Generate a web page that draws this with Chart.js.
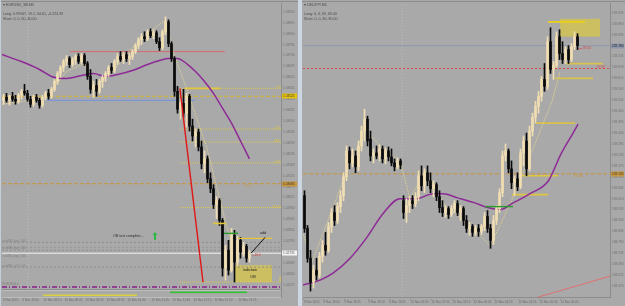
<!DOCTYPE html>
<html>
<head>
<meta charset="utf-8">
<script src="https://cdn.jsdelivr.net/npm/chart.js@4.4.1/dist/chart.umd.min.js"></script>
<style>
html,body{margin:0;padding:0;width:625px;height:306px;overflow:hidden;background:#a9a9a9;}
.pane{position:absolute;top:0;}
#paneL{left:0;width:298px;height:306px;}
#paneR{left:302px;width:323px;height:306px;}
#sep{position:absolute;left:298px;top:0;width:4px;height:306px;background:#cbd6e2;}
#edge{position:absolute;left:0;top:0;width:1px;height:306px;background:#c3cfdc;}
canvas{display:block;}
</style>
</head>
<body>
<div id="paneL" class="pane"><canvas id="cL" width="298" height="306"></canvas></div>
<div id="sep"></div>
<div id="paneR" class="pane"><canvas id="cR" width="323" height="306"></canvas></div>
<div id="edge"></div>
<script>
// ---------------- LEFT: EURUSD_SB, M5 ----------------
const leftOpen = [1.03505,1.03520,1.03505,1.03525,1.03510,1.03500,1.03530,1.03550,1.03540,1.03510,
 1.03485,1.03520,1.03505,1.03480,1.03520,1.03540,1.03525,1.03560,1.03600,1.03640,
 1.03670,1.03700,1.03715,1.03685,1.03710,1.03725,1.03700,1.03730,1.03690,1.03625,
 1.03560,1.03580,1.03550,1.03600,1.03620,1.03640,1.03670,1.03655,1.03700,1.03725,
 1.03710,1.03735,1.03715,1.03725,1.03750,1.03780,1.03810,1.03825,1.03815,1.03850,
 1.03830,1.03845,1.03800,1.03770,1.03850,1.03900,1.03790,1.03715,1.03550,1.03460,
 1.03490,1.03440,1.03525,1.03375,1.03325,1.03345,1.03270,1.03185,1.03210,1.03110,
 1.03060,1.02980,1.03000,1.02900,1.02660,1.02750,1.02650,1.02825,1.02690,1.02800,
 1.02740,1.02770,1.02710];
const leftHigh = [1.03535,1.03540,1.03530,1.03545,1.03530,1.03540,1.03560,1.03585,1.03555,1.03525,
 1.03530,1.03535,1.03515,1.03530,1.03550,1.03560,1.03570,1.03610,1.03650,1.03680,
 1.03710,1.03730,1.03725,1.03720,1.03735,1.03740,1.03740,1.03740,1.03700,1.03660,
 1.03600,1.03610,1.03610,1.03630,1.03650,1.03680,1.03690,1.03710,1.03740,1.03750,
 1.03745,1.03750,1.03740,1.03760,1.03790,1.03820,1.03840,1.03850,1.03860,1.03865,
 1.03860,1.03855,1.03820,1.03860,1.03925,1.03910,1.03800,1.03725,1.03575,1.03510,
 1.03560,1.03540,1.03535,1.03410,1.03360,1.03360,1.03300,1.03250,1.03225,1.03140,
 1.03080,1.03020,1.03010,1.02910,1.02775,1.02800,1.02860,1.02850,1.02820,1.02815,
 1.02790,1.02780,1.02750];
const leftLow = [1.03485,1.03495,1.03480,1.03500,1.03485,1.03490,1.03510,1.03530,1.03500,1.03470,
 1.03475,1.03495,1.03465,1.03470,1.03505,1.03510,1.03515,1.03550,1.03585,1.03620,
 1.03650,1.03680,1.03670,1.03675,1.03685,1.03690,1.03690,1.03680,1.03610,1.03540,
 1.03520,1.03525,1.03540,1.03570,1.03600,1.03625,1.03640,1.03645,1.03685,1.03700,
 1.03690,1.03700,1.03685,1.03710,1.03740,1.03765,1.03785,1.03800,1.03805,1.03820,
 1.03815,1.03790,1.03755,1.03760,1.03835,1.03775,1.03700,1.03525,1.03440,1.03410,
 1.03420,1.03370,1.03350,1.03300,1.03270,1.03250,1.03160,1.03140,1.03090,1.03040,
 1.02960,1.02910,1.02875,1.02620,1.02600,1.02625,1.02640,1.02590,1.02675,1.02710,
 1.02720,1.02690,1.02690];
const leftClose = [1.03520,1.03505,1.03525,1.03510,1.03500,1.03530,1.03550,1.03540,1.03510,1.03485,
 1.03520,1.03505,1.03480,1.03520,1.03540,1.03525,1.03560,1.03600,1.03640,1.03670,
 1.03700,1.03715,1.03685,1.03710,1.03725,1.03700,1.03730,1.03690,1.03625,1.03560,
 1.03580,1.03550,1.03600,1.03620,1.03640,1.03670,1.03655,1.03700,1.03725,1.03710,
 1.03735,1.03715,1.03725,1.03750,1.03780,1.03810,1.03825,1.03815,1.03850,1.03830,
 1.03845,1.03800,1.03770,1.03850,1.03900,1.03790,1.03715,1.03550,1.03460,1.03490,
 1.03440,1.03525,1.03375,1.03325,1.03345,1.03270,1.03185,1.03210,1.03110,1.03060,
 1.02980,1.03000,1.02900,1.02660,1.02750,1.02650,1.02825,1.02690,1.02800,1.02740,
 1.02770,1.02710,1.02735];
const leftMaIdx = [-0.5,6,12,16,21,26,30,34,38,43,48,52,55,58,61,64,67,70,73,76,79,82];
const leftMaVal = [1.03735,1.03700,1.03660,1.03625,1.03615,1.03630,1.03640,1.03625,1.03635,1.03655,1.03685,
 1.03705,1.03715,1.03715,1.03690,1.03650,1.03600,1.03540,1.03465,1.03390,1.03300,1.03210];
const leftZzIdx = [-0.5,14,21,27,30.5,35.5,45.5,54,56.5,61,65.5,67.8,74.5,77.3];
const leftZzVal = [1.03485,1.03515,1.03650,1.03690,1.03575,1.03635,1.03815,1.03910,1.03750,1.03565,1.03365,1.03265,1.02865,1.02750];
const leftTicks = [1.03950,1.03895,1.03840,1.03785,1.03730,1.03675,1.03620,1.03565,1.03510,1.03455,1.03400,1.03345,1.03290,
 1.03235,1.03180,1.03125,1.03070,1.03015,1.02960,1.02905,1.02850,1.02795,1.02740,1.02685,1.02630,1.02575];
const leftTimeLabels = ["9 Nov 2022","9 Nov 13:35","10 Nov 08:10","10 Nov 08:45","10 Nov 09:20","10 Nov 09:55",
 "10 Nov 10:30","10 Nov 11:05","10 Nov 11:40","10 Nov 12:15","10 Nov 12:50","10 Nov 13:25"];
const leftTimeIdx = [-0.5,6,13,20,27,34,41,49,56,63,70,78];
const leftFullLevels = [1.03525, 1.03085, 1.02790, 1.02765, 1.02750, 1.02665, 1.02735, 1.02565];
const leftFiboLevels = [1.03565, 1.03360, 1.03295, 1.03190, 1.02965];
const leftFiboLabels = ["0.0", "23.6", "38.2", "61.8", "161.8"];
const leftHeader = ["\u25BE EURUSD_SB,M5", "Long: 0.99947, 19.1, 64.61, -0.224.39", "Short: 0, 0, 60, 40.00"];

// ---------------- RIGHT: USDJPY, M5 ----------------
const rightOpen = [139.025,138.860,138.710,138.590,138.650,138.625,138.720,138.775,138.750,138.870,
 138.940,138.900,138.970,139.025,139.120,139.250,139.190,139.225,139.170,139.275,
 139.350,139.410,139.310,139.225,139.240,139.225,139.260,139.210,139.250,139.220,
 139.190,139.170,139.200,139.000,138.940,138.975,139.000,138.985,139.020,139.125,
 139.075,139.140,139.100,139.060,139.080,139.020,138.965,138.940,138.960,138.930,
 138.960,138.985,138.940,138.960,138.900,138.860,138.870,138.840,138.860,138.845,
 138.870,138.920,138.860,138.800,138.900,138.960,139.040,139.225,139.250,139.160,
 139.090,139.110,139.070,139.240,139.300,139.160,139.350,139.420,139.475,139.525,
 139.610,139.575,139.800,139.660,139.680,139.825,139.740,139.710,139.760,139.710,
 139.775,139.825];
const rightHigh = [139.050,138.875,138.750,138.675,138.710,138.740,138.800,138.840,138.890,138.960,
 138.975,138.990,139.050,139.140,139.275,139.270,139.260,139.250,139.300,139.375,
 139.460,139.425,139.350,139.260,139.275,139.280,139.275,139.265,139.270,139.260,
 139.210,139.215,139.210,139.025,139.010,139.020,139.025,139.040,139.150,139.175,
 139.160,139.175,139.140,139.100,139.090,139.050,139.000,138.975,138.970,138.975,
 139.000,139.000,138.975,138.970,138.925,138.890,138.880,138.875,138.880,138.880,
 138.940,138.950,138.880,138.925,138.975,139.060,139.250,139.285,139.260,139.200,
 139.125,139.140,139.260,139.325,139.340,139.375,139.440,139.500,139.550,139.625,
 139.690,139.825,139.870,139.700,139.850,139.860,139.800,139.775,139.780,139.790,
 139.850,139.840];
const rightLow = [138.840,138.690,138.545,138.560,138.600,138.610,138.690,138.725,138.740,138.840,
 138.875,138.885,138.940,139.000,139.100,139.160,139.170,139.140,139.150,139.250,
 139.300,139.275,139.200,139.190,139.210,139.200,139.190,139.185,139.200,139.175,
 139.150,139.160,139.160,138.910,138.890,138.940,138.960,138.970,139.000,139.050,
 139.040,139.075,139.040,139.020,139.000,138.940,138.920,138.915,138.910,138.920,
 138.940,138.925,138.900,138.875,138.840,138.825,138.820,138.825,138.820,138.830,
 138.850,138.840,138.760,138.780,138.880,138.940,139.020,139.200,139.140,139.060,
 139.025,139.050,139.060,139.175,139.125,139.150,139.325,139.390,139.440,139.500,
 139.550,139.560,139.640,139.610,139.670,139.710,139.690,139.690,139.690,139.700,
 139.760,139.760];
const rightClose = [138.860,138.710,138.590,138.650,138.625,138.720,138.775,138.750,138.870,138.940,
 138.900,138.970,139.025,139.120,139.250,139.190,139.225,139.170,139.275,139.350,
 139.410,139.300,139.225,139.240,139.225,139.260,139.210,139.250,139.220,139.190,
 139.170,139.200,139.180,138.940,138.975,139.000,138.985,139.020,139.125,139.075,
 139.140,139.100,139.060,139.080,139.020,138.965,138.940,138.960,138.930,138.960,
 138.985,138.940,138.960,138.900,138.860,138.870,138.840,138.860,138.845,138.870,
 138.920,138.860,138.800,138.900,138.960,139.040,139.225,139.250,139.160,139.090,
 139.110,139.070,139.240,139.300,139.160,139.350,139.420,139.475,139.525,139.610,
 139.575,139.800,139.660,139.680,139.825,139.740,139.710,139.760,139.710,139.775,
 139.825,139.780];
const rightMaIdx = [-0.5,5.2,9.5,15.2,20.8,26.2,31.8,37.5,42.8,46.2,50.8,56.5,61,65.2,69.7,75.2,81.3,85.5,89.5,91.2];
const rightMaVal = [138.575,138.600,138.635,138.710,138.815,138.935,139.010,139.010,139.035,139.035,
 139.015,138.990,138.965,138.955,138.990,139.035,139.100,139.235,139.340,139.385];
const rightZzIdx = [-0.5,2.5,13.5,20.2,26.8,31.8,35.2,40.2,46.8,55.2,61.8,65.2,70.5,77.2,82.5,85.2];
const rightZzVal = [138.835,138.690,139.125,139.360,139.250,139.200,139.010,139.150,138.975,138.875,
 138.775,138.875,139.050,139.300,139.500,139.650];
const rightTicks = [139.945,139.890,139.835,139.780,139.725,139.670,139.615,139.560,139.505,139.450,139.395,
 139.340,139.285,139.230,139.175,139.120,139.065,139.010,138.955,138.900,138.845,138.790,138.735,138.680,138.625,138.570];
const rightTimeLabels = ["9 Nov 2022","9 Nov 18:00","9 Nov 18:35","9 Nov 19:10","9 Nov 19:45","10 Nov 02:00",
 "10 Nov 02:35","10 Nov 03:10","10 Nov 03:45","10 Nov 04:20","10 Nov 04:55","10 Nov 05:30","10 Nov 06:05"];
const rightTimeIdx = [-0.5,6,13,21,28,35,42,49,56,63,71,78,85];
const rightFullLevels = [139.780, 139.665, 139.135];
const rightHeader = ["\u25BE USDJPY,M5", "Long: 0, 0, 69, 69.00", "Short: 0, 0, 80, 80.00"];

// ---------------- helpers ----------------
const FONT = '"Liberation Sans", Arial, sans-serif';
const BULL = '#f0ddb2', BEAR = '#0a0a0a';

function candleSets(o, h, l, c) {
  const col = o.map((v, i) => c[i] >= v ? BULL : BEAR);
  return [
    {type:'bar', data:o.map((v,i)=>({x:i, y:[v, c[i]]})), backgroundColor:col, barThickness:2, grouped:false, minBarLength:1, order:1},
    {type:'bar', data:o.map((v,i)=>({x:i, y:[l[i], h[i]]})), backgroundColor:col, barThickness:1, grouped:false, order:2}
  ];
}
function seg(i0, i1, p0, p1, color, width, dash, order) {
  return {type:'line', data:[{x:i0,y:p0},{x:i1,y:p1}], borderColor:color, borderWidth:width,
    borderDash:dash||[], pointRadius:0, fill:false, tension:0, order:(order===undefined?6:order)};
}
function curve(idx, val, color, width, dash, smooth, order) {
  return {type:'line', data:idx.map((v,k)=>({x:v, y:val[k]})), borderColor:color, borderWidth:width,
    borderDash:dash, pointRadius:0, fill:false, cubicInterpolationMode: smooth ? 'monotone' : 'default',
    tension: smooth ? 0.4 : 0, order:order};
}
function txt(ctx, s, x, y, color, size, align) {
  ctx.font = size + 'px ' + FONT; ctx.fillStyle = color; ctx.textAlign = align || 'left';
  ctx.textBaseline = 'middle'; ctx.fillText(s, x, y);
}
function makeExtras(cfg) {
  return {
    id: 'extras' + cfg.name,
    beforeDatasetsDraw(chart) {
      const ctx = chart.ctx, a = chart.chartArea, X = chart.scales.x, Y = chart.scales.y;
      ctx.save(); ctx.beginPath(); ctx.rect(a.left, a.top, a.right - a.left, a.bottom - a.top); ctx.clip();
      cfg.boxes.forEach(b => {
        const x0 = X.getPixelForValue(b.i0), x1 = X.getPixelForValue(b.i1);
        const y0 = Y.getPixelForValue(b.p0), y1 = Y.getPixelForValue(b.p1);
        ctx.fillStyle = b.color; ctx.fillRect(x0, Math.min(y0, y1), x1 - x0, Math.abs(y1 - y0));
      });
      ctx.restore();
    },
    afterDatasetsDraw(chart) {
      const ctx = chart.ctx, X = chart.scales.x, Y = chart.scales.y;
      ctx.save();
      cfg.notes.forEach(n => txt(ctx, n.t, X.getPixelForValue(n.i), Y.getPixelForValue(n.p), n.c, n.s, n.a));
      (cfg.arrows || []).forEach(ar => {
        const x = X.getPixelForValue(ar.i), y = Y.getPixelForValue(ar.p);
        ctx.fillStyle = '#2fb84a';
        ctx.beginPath();
        ctx.moveTo(x, y - 4); ctx.lineTo(x + 2.5, y - 1); ctx.lineTo(x + 1, y - 1); ctx.lineTo(x + 1, y + 4);
        ctx.lineTo(x - 1, y + 4); ctx.lineTo(x - 1, y - 1); ctx.lineTo(x - 2.5, y - 1); ctx.closePath(); ctx.fill();
      });
      ctx.restore();
    },
    afterDraw(chart) {
      const ctx = chart.ctx, a = chart.chartArea, X = chart.scales.x, Y = chart.scales.y, W = chart.width;
      ctx.save();
      ctx.fillStyle = '#8b8b8b'; ctx.fillRect(0, 1, W, 1);
      ctx.fillStyle = '#8c8c8c'; ctx.fillRect(a.left, Math.round(a.bottom), a.right - a.left, 1);
      txt(ctx, cfg.header[0], a.left + 1, 5, '#4a4a4a', 3.6, 'left');
      txt(ctx, cfg.header[1], a.left + 1, 14, '#4a4a4a', 3.6, 'left');
      txt(ctx, cfg.header[2], a.left + 1, 19, '#4a4a4a', 3.6, 'left');
      cfg.timeIdx.forEach((ix, k) => {
        const x = X.getPixelForValue(ix);
        ctx.fillStyle = '#8c8c8c'; ctx.fillRect(Math.round(x), a.bottom + cfg.timeDy - 3, 1, 1);
        txt(ctx, cfg.timeLabels[k], x + 1, a.bottom + cfg.timeDy, '#6a6a6a', 3, 'left');
      });
      if (cfg.sub) {
        const top = a.bottom + 1, bot = a.bottom + 8;
        ctx.fillStyle = '#bdbdbd';
        ctx.fillRect(a.left, top, a.right - a.left, 1);
        ctx.fillRect(a.left, bot, a.right - a.left, 1);
        ctx.fillStyle = '#8c8c8c'; ctx.fillRect(a.right, top, 1, bot - top + 1);
        cfg.sub.forEach(s => {
          const x0 = X.getPixelForValue(s.i0), x1 = X.getPixelForValue(s.i1);
          ctx.fillStyle = s.color; ctx.fillRect(x0, a.bottom + s.dy, x1 - x0, 1.6);
        });
      }
      cfg.axisBoxes.forEach(b => {
        const y = Y.getPixelForValue(b.p);
        ctx.fillStyle = b.bg; ctx.fillRect(a.right + 1, Math.round(y) - 2.5, W - a.right - 2, 5);
        txt(ctx, b.p.toFixed(cfg.dec), a.right + 2, y, b.fg, 3.2, 'left');
      });
      ctx.restore();
    }
  };
}
function baseOptions(xmin, xmax, ymin, ymax, ticks, dec, axisW, pad) {
  return {
    responsive:false, animation:false, devicePixelRatio:1,
    layout:{padding:pad},
    plugins:{legend:{display:false}, tooltip:{enabled:false}},
    scales:{
      x:{type:'linear', min:xmin, max:xmax, display:false, offset:false},
      y:{type:'linear', position:'right', min:ymin, max:ymax, beginAtZero:false,
         grid:{display:false, drawTicks:false}, border:{display:true, color:'#8c8c8c'},
         ticks:{font:{size:3.2, family:FONT}, color:'#707070', padding:2, autoSkip:false,
                callback:(v)=>Number(v).toFixed(dec)},
         afterBuildTicks:(s)=>{ s.ticks = ticks.map(v=>({value:v})); },
         afterFit:(s)=>{ s.width = axisW; }}
    }
  };
}

// ---------------- LEFT CHART ----------------
const LX0 = -0.5, LX1 = 92.5;
const leftDatasets = [
  seg(58.8, 66.5, 1.03565, 1.02590, '#e01818', 1.4, [], 0),
  seg(82.5, 87.2, 1.02735, 1.02815, '#111111', 1, [], 0),
  seg(69.8, 74.2, 1.02885, 1.02885, '#e3c63a', 1.6, [], 0),
  seg(73.5, 78.2, 1.02835, 1.02835, '#2a9a2a', 1.4, [], 0),
  seg(78.2, 89.5, 1.02810, 1.02810, '#e3c63a', 1.4, [], 0),
  ...candleSets(leftOpen, leftHigh, leftLow, leftClose),
  curve(leftMaIdx, leftMaVal, '#8e2a96', 1.5, [], true, 3),
  curve(leftZzIdx, leftZzVal, '#e8d88e', 1, [1,1], false, 4),
  seg(22.2, 73.8, 1.03750, 1.03750, '#d86c6c', 1, [], 6),
  seg(12.8, 63.8, 1.03505, 1.03505, '#7194dc', 1, [], 6),
  seg(60.5, 72.2, 1.03565, 1.03565, '#e3c63a', 1.8, [], 5),
  seg(LX0, LX1, leftFullLevels[0], leftFullLevels[0], '#d9b42c', 1, [4,2], 7),
  seg(LX0, LX1, leftFullLevels[1], leftFullLevels[1], '#c8963c', 1, [4,2], 7),
  seg(LX0, LX1, leftFullLevels[2], leftFullLevels[2], '#8f8f8f', 1, [2,2], 7),
  seg(LX0, LX1, leftFullLevels[3], leftFullLevels[3], '#959595', 1, [2,2], 7),
  seg(LX0, LX1, leftFullLevels[4], leftFullLevels[4], '#8f8f8f', 1, [2,2], 7),
  seg(LX0, LX1, leftFullLevels[5], leftFullLevels[5], '#8f8f8f', 1, [2,2], 7),
  seg(LX0, LX1, leftFullLevels[6], leftFullLevels[6], '#f2f2f2', 1, [], 7),
  seg(LX0, LX1, leftFullLevels[7], leftFullLevels[7], '#8b1c8b', 1.5, [5,2,1,2], 7),
  ...leftFiboLevels.map(p => seg(58.8, LX1, p, p, '#dcc850', 1, [1,1], 7)),
  seg(58.8, 92.2, 1.02590, 1.02590, '#dcc850', 1, [1,1], 7),
  seg(92.2, 92.2, 1.02590, 1.02620, '#dcc850', 1, [], 7),
  seg(8.2, 8.2, 1.02555, 1.03990, '#bcbcbc', 1, [1,2], 8)
];
const leftNotes = [
  {t:'OB test complete....', i:36.5, p:1.02820, c:'#2e2e2e', s:3.6, a:'left'},
  {t:'indiction', i:82.2, p:1.02650, c:'#1a1a1a', s:3.8, a:'center'},
  {t:'OB', i:83.2, p:1.02615, c:'#1a1a1a', s:3.8, a:'center'},
  {t:'add', i:86.5, p:1.02835, c:'#1a1a1a', s:3.6, a:'center'},
  {t:'-- 46.9', i:82.8, p:1.02725, c:'#e04040', s:3, a:'left'},
  {t:'61 Lo', i:80.5, p:1.03075, c:'#c8963c', s:3, a:'left'},
  {t:'eurUSD_buy_1.00', i:-0.3, p:1.02795, c:'#7c7c7c', s:2.8, a:'left'},
  {t:'eurUSD_buy_1.00', i:-0.3, p:1.02760, c:'#7c7c7c', s:2.8, a:'left'},
  {t:'eurUSD_buy_1.00', i:-0.3, p:1.02720, c:'#7c7c7c', s:2.8, a:'left'},
  {t:'eurUSD_sell_1.00', i:-0.3, p:1.02670, c:'#7c7c7c', s:2.8, a:'left'},
  {t:'EURUSD4 d', i:-0.3, p:1.02580, c:'#7c7c7c', s:2.8, a:'left'}
].concat(leftFiboLabels.map((t,k)=>({t:t, i:92.3, p:leftFiboLevels[k]+0.00004, c:'#e0c840', s:3, a:'right'})));

new Chart(document.getElementById('cL'), {
  type:'bar',
  data:{datasets:leftDatasets},
  options:baseOptions(LX0, LX1, 1.02555, 1.03990, leftTicks, 5, 17, {left:2, top:2, right:0, bottom:17}),
  plugins:[makeExtras({
    name:'L', header:leftHeader, timeLabels:leftTimeLabels, timeIdx:leftTimeIdx, timeDy:11, dec:5,
    boxes:[{i0:77.2, i1:89.5, p0:1.02675, p1:1.02590, color:'#cbbf62'}],
    notes:leftNotes,
    arrows:[{i:50.5, p:1.02822}],
    sub:[{i0:13.2, i1:44.5, dy:5.5, color:'#d8d040'}, {i0:55.5, i1:81.2, dy:2.5, color:'#34c234'}],
    axisBoxes:[{p:1.03525, bg:'#e6c20c', fg:'#3a3a3a'}, {p:1.03085, bg:'#c8963c', fg:'#3a3a3a'}, {p:1.02735, bg:'#f4f4f4', fg:'#555555'}]
  })]
});

// ---------------- RIGHT CHART ----------------
const RX0 = -0.5, RX1 = 101.83;
const rightDatasets = [
  seg(60.2, 69.5, 138.970, 138.970, '#2a9a2a', 1.4, [], 0),
  ...candleSets(rightOpen, rightHigh, rightLow, rightClose),
  curve(rightMaIdx, rightMaVal, '#8e2a96', 1.5, [], true, 3),
  curve(rightZzIdx, rightZzVal, '#e8d88e', 1, [1,1], false, 4),
  seg(81.2, 93.5, 139.900, 139.900, '#ecd018', 1.8, [], 5),
  seg(87.2, 99.5, 139.690, 139.690, '#d8c24e', 1.8, [], 5),
  seg(83.5, 96.2, 139.615, 139.615, '#d8c24e', 1.8, [], 5),
  seg(77.2, 90.2, 139.390, 139.390, '#d8c24e', 1.8, [], 5),
  seg(69.2, 81.2, 139.030, 139.030, '#e0c640', 1.6, [], 5),
  seg(72.5, 84.5, 139.125, 139.125, '#e0c640', 1.6, [], 5),
  seg(91.3, 92.3, 139.765, 139.765, '#e04848', 1, [1,1], 5),
  seg(76.8, RX1, 138.510, 138.620, '#e07070', 1, [], 5),
  seg(RX0, RX1, rightFullLevels[0], rightFullLevels[0], '#8d97ab', 1, [], 7),
  seg(RX0, RX1, rightFullLevels[1], rightFullLevels[1], '#e04848', 1, [2,2], 7),
  seg(RX0, RX1, rightFullLevels[2], rightFullLevels[2], '#c8963c', 1, [4,2], 7),
  seg(32.5, 32.5, 138.515, 139.990, '#bcbcbc', 1, [1,2], 8)
];
const rightNotes = [
  {t:'-- 89.34', i:91.9, p:139.765, c:'#e04040', s:3, a:'left'},
  {t:'87.94', i:97.6, p:139.671, c:'#e04040', s:3, a:'left'},
  {t:'NTG60', i:89.5, p:139.124, c:'#c8963c', s:3, a:'left'}
];
new Chart(document.getElementById('cR'), {
  type:'bar',
  data:{datasets:rightDatasets},
  options:baseOptions(RX0, RX1, 138.515, 139.990, rightTicks, 3, 15, {left:1, top:2, right:0, bottom:9}),
  plugins:[makeExtras({
    name:'R', header:rightHeader, timeLabels:rightTimeLabels, timeIdx:rightTimeIdx, timeDy:5, dec:3,
    boxes:[{i0:85.2, i1:98.5, p0:139.915, p1:139.825, color:'#cbbf62'}],
    notes:rightNotes,
    axisBoxes:[{p:139.780, bg:'#8d97ab', fg:'#222222'}, {p:139.135, bg:'#c8963c', fg:'#3a3a3a'}]
  })]
});
</script>
</body>
</html>
